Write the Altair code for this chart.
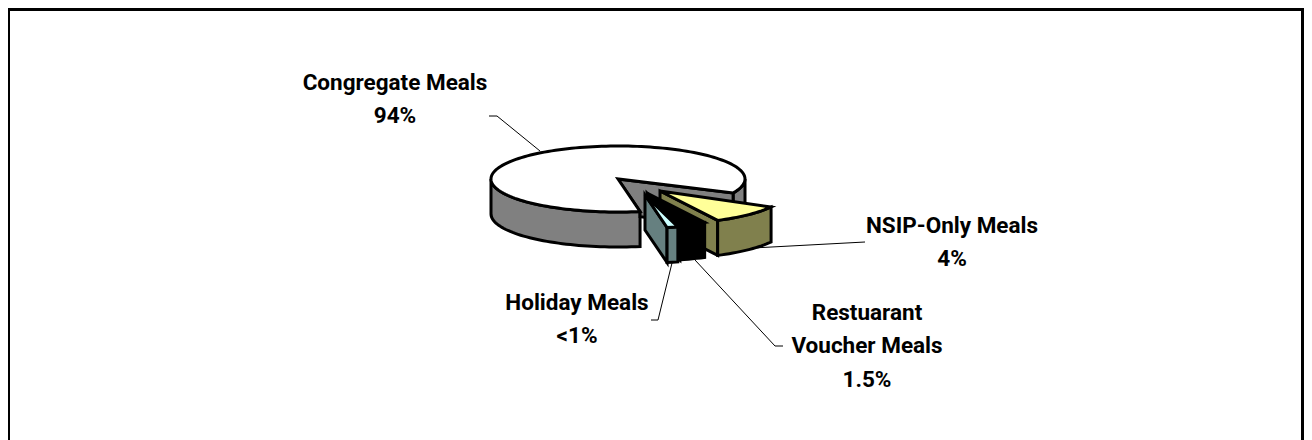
import math
import altair as alt

# --- chart values ---
label_lines = [
    ["Congregate Meals", "94%"],
    ["NSIP-Only Meals", "4%"],
    ["Restuarant", "Voucher Meals", "1.5%"],
    ["Holiday Meals", "<1%"],
]
slice_names = ["Congregate", "NSIP-Only", "Restaurant", "Holiday"]
# angular extent each slice occupies in the drawing (degrees)
drawn_degrees = [305, 34, 12, 5]

# --- styles / layout ---
top_fill = ["#FFFFFF", "#FFFF99", "#000000", "#CCFFFF"]
side_fill = ["#808080", "#80804D", "#000000", "#668080"]
explode = [(0, 0), (42, 12), (29, 14), (27, 16)]
CX, CY, RX, RY, DEPTH = 618, 179, 127, 33, 35
FIRST = 80
W, H = 1296, 432
ORIGIN = 8


def P(cx, cy, deg, dz=0):
    a = math.radians(deg)
    return [cx + RX * math.cos(a) - ORIGIN, cy + RY * math.sin(a) + dz - ORIGIN]


def arc(cx, cy, a0, a1, dz=0):
    n = max(2, int(abs(a1 - a0) / 2))
    return [P(cx, cy, a0 + (a1 - a0) * i / n, dz) for i in range(n + 1)]


def feat(ring, fill):
    ring = ring + [ring[0]]
    return {
        "type": "Feature",
        "geometry": {"type": "Polygon", "coordinates": [ring]},
        "properties": {"fill": fill},
    }


features = []

# main slice
a0, a1 = FIRST, FIRST + drawn_degrees[0]
apex = [CX - ORIGIN, CY - ORIGIN]
far = P(CX, CY, a1)
far_low = P(CX, CY, a1, DEPTH)
near = P(CX, CY, a0)
t = (near[0] - apex[0]) / (far[0] - apex[0])
cut_low = [near[0], apex[1] + DEPTH + t * (far[1] - apex[1])]
features.append(feat(arc(CX, CY, a1, 360) + arc(CX, CY, 360, a1, DEPTH), side_fill[0]))
features.append(feat(arc(CX, CY, a0, 180) + arc(CX, CY, 180, a0, DEPTH), side_fill[0]))
features.append(feat([apex, far, far_low, cut_low, near], side_fill[0]))
features.append(feat([apex] + arc(CX, CY, a0, a1), top_fill[0]))

# exploded slices, far to near
end = FIRST
ranges = {}
for i in [3, 2, 1]:
    ranges[i] = (end - drawn_degrees[i], end)
    end -= drawn_degrees[i]

for i in [1, 2, 3]:
    a0, a1 = ranges[i]
    cx, cy = CX + explode[i][0], CY + explode[i][1]
    apex = [cx - ORIGIN, cy - ORIGIN]
    apex_low = [cx - ORIGIN, cy + DEPTH - ORIGIN]
    features.append(feat([apex, P(cx, cy, a1), P(cx, cy, a1, DEPTH), apex_low], side_fill[i]))
    features.append(feat(arc(cx, cy, a0, a1) + arc(cx, cy, a1, a0, DEPTH), side_fill[i]))
    features.append(feat([apex] + arc(cx, cy, a0, a1), top_fill[i]))

pie = (
    alt.Chart(
        alt.InlineData(
            values={"type": "FeatureCollection", "features": features},
            format=alt.DataFormat(property="features", type="json"),
        )
    )
    .mark_geoshape(stroke="black", strokeWidth=3, strokeJoin="miter")
    .encode(fill=alt.Fill("properties.fill:N", scale=None))
    .project(type="identity", scale=1, translate=[0, 0])
)


def rule_df(points):
    return [{"x": x - ORIGIN, "y": y - ORIGIN, "o": k} for k, (x, y) in enumerate(points)]


leader_paths = [
    [(489, 116), (497, 116), (540, 151)],
    [(865, 242), (753, 248)],
    [(783, 346), (775, 346), (695, 260)],
    [(651, 320), (658, 320), (672, 263)],
]
leaders = []
for path in leader_paths:
    leaders.append(
        alt.Chart(alt.Data(values=rule_df(path)))
        .mark_line(color="black", strokeWidth=1)
        .encode(x=alt.X("x:Q", scale=None), y=alt.Y("y:Q", scale=None), order="o:Q")
    )

label_pos = [(395, 82), (952, 225), (867, 312), (577, 302)]
rows = []
for lines, (x, y0) in zip(label_lines, label_pos):
    for k, s in enumerate(lines):
        rows.append({"t": s, "x": x - ORIGIN, "y": y0 + 8 + k * 33.3 - ORIGIN})
text = (
    alt.Chart(alt.Data(values=rows))
    .mark_text(font="Roboto", fontWeight="bold", fontSize=22.5, color="black", baseline="alphabetic", align="center")
    .encode(x=alt.X("x:Q", scale=None), y=alt.Y("y:Q", scale=None), text="t:N")
)

frame = (
    alt.Chart(alt.Data(values=rule_df([(8.5, 460), (8.5, 9.5), (1302.5, 9.5), (1302.5, 460)])))
    .mark_line(color="black", strokeWidth=3, clip=False)
    .encode(x=alt.X("x:Q", scale=None), y=alt.Y("y:Q", scale=None), order="o:Q")
)

chart = alt.layer(frame, *leaders, pie, text).properties(
    width=W, height=H, padding=0, autosize=alt.AutoSizeParams(type="none")
).configure_view(stroke=None)

chart.save("out.html", embed_options={"renderer": "svg", "actions": False})
